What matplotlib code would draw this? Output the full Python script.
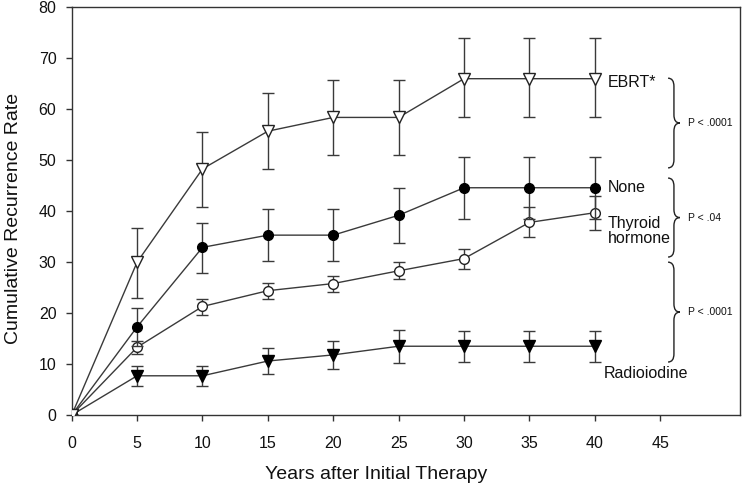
import matplotlib
matplotlib.use("Agg")
import matplotlib.pyplot as plt
from matplotlib.path import Path
from matplotlib.patches import PathPatch
import numpy as np

plt.rcParams['font.family'] = ['Liberation Sans', 'DejaVu Sans']

years = [0, 5, 10, 15, 20, 25, 30, 35, 40]

ebrt = [0, 30.0, 48.3, 55.7, 58.4, 58.4, 66.0, 66.0, 66.0]
ebrt_hi = [0, 36.7, 55.6, 63.1, 65.7, 65.7, 73.9, 73.9, 73.9]
ebrt_lo = [0, 23.0, 40.8, 48.2, 51.0, 51.0, 58.4, 58.4, 58.4]

none = [0, 17.3, 32.9, 35.3, 35.3, 39.2, 44.6, 44.6, 44.6]
none_hi = [0, 21.1, 37.7, 40.4, 40.4, 44.6, 50.6, 50.6, 50.6]
none_lo = [0, 13.5, 27.9, 30.3, 30.3, 33.8, 38.4, 38.4, 38.4]

thyroid = [0, 13.3, 21.3, 24.4, 25.8, 28.3, 30.7, 37.8, 39.7]
thyroid_hi = [0, 14.5, 22.8, 26.0, 27.3, 30.1, 32.6, 40.9, 43.0]
thyroid_lo = [0, 12.0, 19.6, 22.7, 24.1, 26.6, 28.7, 35.0, 36.3]

radio = [0, 7.7, 7.7, 10.6, 11.8, 13.5, 13.5, 13.5, 13.5]
radio_hi = [0, 9.6, 9.6, 13.2, 14.5, 16.7, 16.5, 16.5, 16.5]
radio_lo = [0, 5.7, 5.7, 8.0, 9.0, 10.3, 10.4, 10.4, 10.4]

series_labels = ["EBRT*", "None", "Thyroid\nhormone", "Radioiodine"]
label_pos = [(41.0, 65.3), (41.0, 44.7), (41.0, 36.1), (40.7, 8.2)]

brace_spans = [(66.1, 48.5), (46.5, 31.0), (30.0, 10.4)]
p_labels = ["P < .0001", "P < .04", "P < .0001"]

x_ticks = [0, 5, 10, 15, 20, 25, 30, 35, 40, 45]
y_ticks = [0, 10, 20, 30, 40, 50, 60, 70, 80]

fig = plt.figure(figsize=(7.44, 4.90), dpi=100)
ax = fig.add_axes([0.0964, 0.153, 0.8982, 0.832])

lc = '#3a3a3a'
styles = [
    dict(marker='v', mfc='white', mec='#222222', ms=8),
    dict(marker='o', mfc='black', mec='black', ms=7),
    dict(marker='o', mfc='white', mec='#222222', ms=7),
    dict(marker='v', mfc='black', mec='black', ms=8),
]
zorders = [6, 5, 4, 3]
data = [(ebrt, ebrt_hi, ebrt_lo), (none, none_hi, none_lo),
        (thyroid, thyroid_hi, thyroid_lo), (radio, radio_hi, radio_lo)]

for (v, hi, lo), st, z in zip(data, styles, zorders):
    v = np.array(v); hi = np.array(hi); lo = np.array(lo)
    yerr = np.vstack([v - lo, hi - v])
    yerr[:, 0] = 0
    ax.errorbar(years, v, yerr=yerr, color=lc, lw=1.0, elinewidth=1.0,
                capsize=4, capthick=1.0, zorder=z, **st)

for lab, (lx, ly) in zip(series_labels, label_pos):
    ax.text(lx, ly, lab, fontsize=11.5, ha='left', va='center', color='#111111',
            linespacing=1.05)

def brace(ax, ytop, ybot, x0=45.6, xm=46.05, x1=46.5, r=1.6):
    ymid = (ytop + ybot) / 2
    verts = [(x0, ytop), (xm, ytop), (xm, ytop - r), (xm, ymid + r),
             (xm, ymid), (x1, ymid),
             (x1, ymid), (xm, ymid), (xm, ymid - r), (xm, ybot + r),
             (xm, ybot), (x0, ybot)]
    codes = [Path.MOVETO, Path.CURVE3, Path.CURVE3, Path.LINETO,
             Path.CURVE3, Path.CURVE3,
             Path.MOVETO, Path.CURVE3, Path.CURVE3, Path.LINETO,
             Path.CURVE3, Path.CURVE3]
    ax.add_patch(PathPatch(Path(verts, codes), fill=False, ec='#222222',
                           lw=1.0, clip_on=False))
    return ymid

for (yt, yb), pl in zip(brace_spans, p_labels):
    ym = brace(ax, yt, yb)
    ax.text(47.1, ym, pl, fontsize=7.5, ha='left', va='center', color='#111111')

ax.set_xlim(0, 51.1)
ax.set_ylim(0, 80)
ax.set_xticks(x_ticks)
ax.set_yticks(y_ticks)
ax.tick_params(direction='out', length=4, width=1, colors='#333333',
               labelsize=11.5, labelcolor='#111111')
ax.tick_params(axis='x', pad=11)
ax.tick_params(axis='y', pad=7)
for s in ax.spines.values():
    s.set_color('#333333')
    s.set_linewidth(1.0)

ax.set_xlabel("Years after Initial Therapy", fontsize=14, color='#111111')
ax.set_ylabel("Cumulative Recurrence Rate", fontsize=14, color='#111111')
ax.xaxis.set_label_coords(0.455, -0.125)
ax.yaxis.set_label_coords(-0.074, 0.483)

fig.savefig("out.png", dpi=100)
